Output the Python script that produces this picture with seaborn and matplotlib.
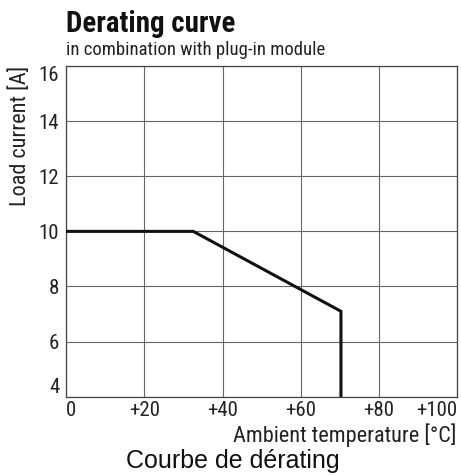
import matplotlib
matplotlib.use("Agg")
import matplotlib.pyplot as plt
import seaborn as sns
import pandas as pd

# derating curve
temperature = [0, 32.5, 70.3, 70.3]
load_current = [10, 10, 7.1, 4]
x_ticks = [0, 20, 40, 60, 80, 100]
x_tick_labels = ["0", "+20", "+40", "+60", "+80", "+100"]
y_ticks = [4, 6, 8, 10, 12, 14, 16]

sns.set_theme(style="white")
plt.rcParams["font.family"] = ["Roboto Condensed", "DejaVu Sans"]

df = pd.DataFrame({"temp": temperature, "current": load_current})

fig = plt.figure(figsize=(4.61, 4.75), dpi=100)
ax = fig.add_axes([0.1438, 0.1648, 0.8475, 0.6962])

sns.lineplot(data=df, x="temp", y="current", sort=False, estimator=None,
             color="#111111", linewidth=2.2, ax=ax, zorder=3)

ax.set_xlim(0, 100)
ax.set_ylim(4, 16)
ax.set_xticks(x_ticks)
ax.set_xticklabels(x_tick_labels)
ax.set_yticks(y_ticks)
ax.grid(True, color="#666666", linewidth=0.8)
for s in ax.spines.values():
    s.set_color("#444444")
    s.set_linewidth(0.9)
ax.tick_params(axis="both", labelsize=15, length=0, colors="#222222")
ax.tick_params(axis="x", pad=3)
ax.tick_params(axis="y", pad=5)
ax.get_xticklabels()[0].set_ha("left")
ax.get_xticklabels()[-1].set_ha("right")
ax.get_yticklabels()[0].set_va("bottom")
ax.get_yticklabels()[-1].set_va("top")

ax.set_xlabel("")
ax.set_ylabel("")
fig.text(20 / 461, 0.862, "Load current [A]", rotation=90, ha="center",
         va="top", fontsize=16, color="#222222")
fig.text(0.991, 0.0695, "Ambient temperature [°C]", ha="right", va="baseline",
         fontsize=16, color="#222222")

fig.text(0.143, 0.933, "Derating curve", ha="left", va="baseline",
         fontsize=20.8, fontweight="bold", color="#111111")
fig.text(0.143, 0.884, "in combination with plug-in module", ha="left",
         va="baseline", fontsize=13.5, color="#222222")
fig.text(233 / 461, 0.0147, "Courbe de dérating", ha="center", va="baseline",
         fontsize=18, color="#111111", family=["Liberation Sans", "DejaVu Sans"])

fig.savefig("out.png", dpi=100)
